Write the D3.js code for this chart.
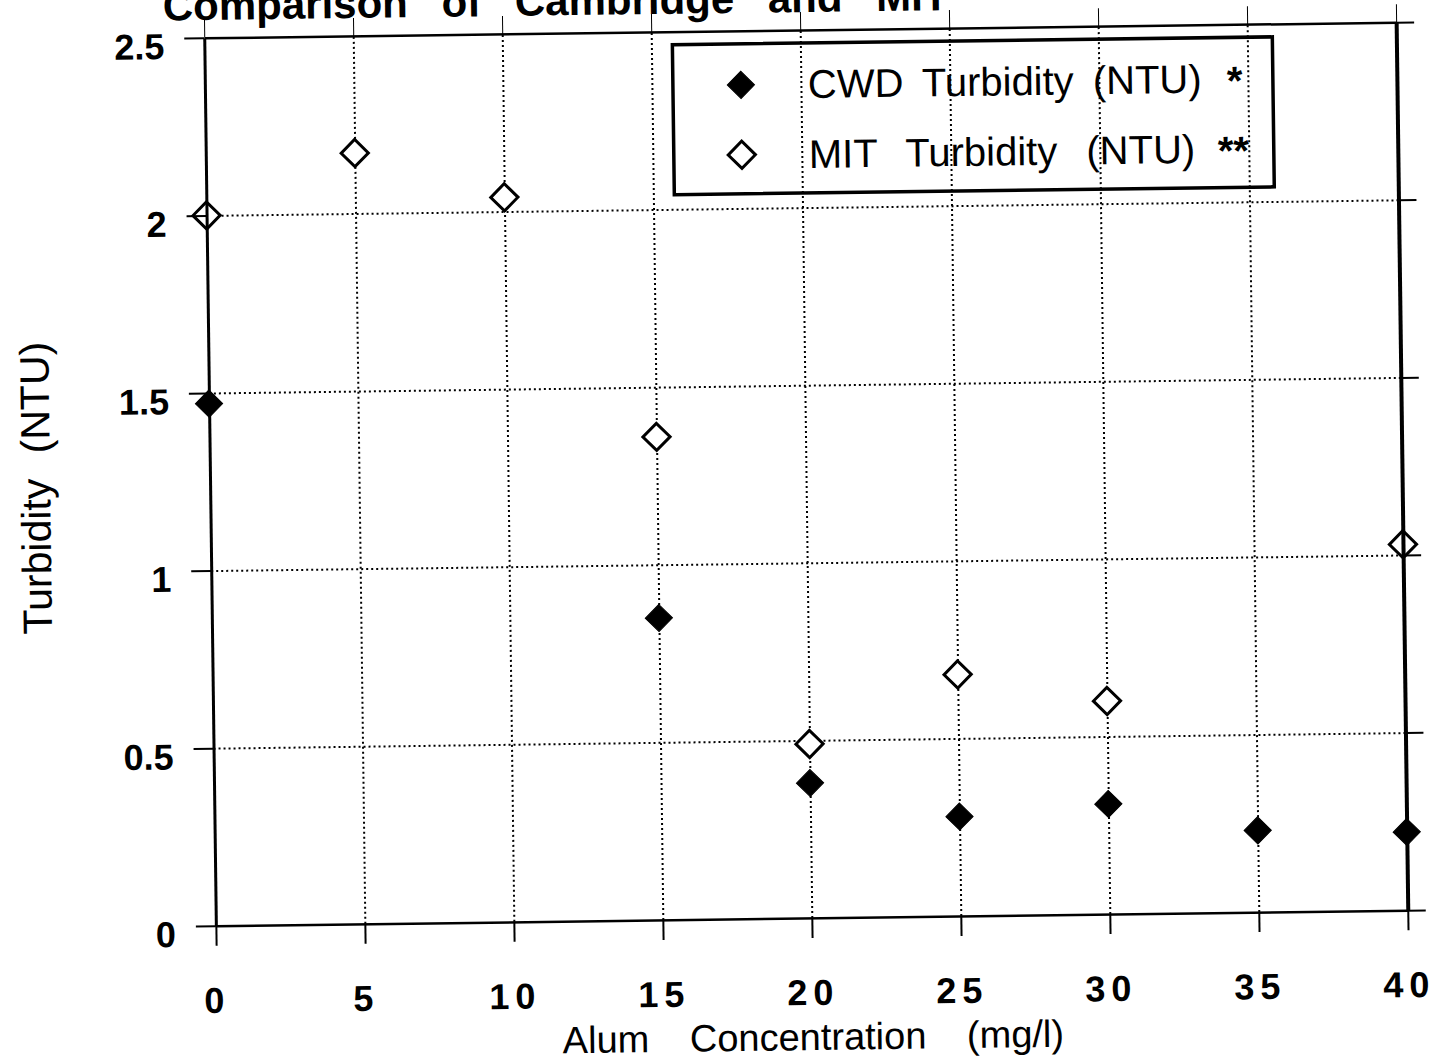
<!DOCTYPE html>
<html>
<head>
<meta charset="utf-8">
<script src="https://cdn.jsdelivr.net/npm/d3@7"></script>
<style>
  html, body { margin: 0; padding: 0; background: #fff; }
  svg { display: block; font-family: "Liberation Sans", Arial, Helvetica, sans-serif; }
</style>
</head>
<body>
<svg id="chart" width="1436" height="1064"></svg>
<script>
// values
const concentrations = [0, 5, 10, 15, 20, 25, 30, 35, 40];
const cwdTurbidity = [1.47, null, null, 0.85, 0.38, 0.28, 0.31, 0.23, 0.22];
const mitTurbidity = [2.00, 2.17, 2.04, 1.36, 0.49, 0.68, 0.60, null, 1.03];
const xTicks = [0, 5, 10, 15, 20, 25, 30, 35, 40];
const yTicks = [0, 0.5, 1, 1.5, 2, 2.5];
const yTickLabels = ["0", "0.5", "1", "1.5", "2", "2.5"];
const seriesNames = ["CWD Turbidity (NTU)", "MIT Turbidity (NTU)"];
const seriesMarks = ["*", "**"];

const svg = d3.select("#chart");
const margin = {left: 210, right: 34, top: 30, bottom: 146};
const width = 1436 - margin.left - margin.right,
    height = 1064 - margin.top - margin.bottom;

// the scan is tilted a little, so the whole drawing is too
const root = svg.append("g").attr("transform", "rotate(-0.75, 806, 474)");
const g = root.append("g").attr("transform", `translate(${margin.left},${margin.top})`);

const x = d3.scaleLinear().domain([0, 40]).range([0, width]);
const y = d3.scaleLinear().domain([0, 2.5]).range([height, 0]);

// dotted grid
g.append("g")
    .attr("class", "grid")
    .attr("transform", `translate(0,${height})`)
    .call(d3.axisBottom(x).tickValues(xTicks.slice(1, -1)).tickSize(-height).tickFormat(""))
    .call(s => s.select(".domain").remove());
g.append("g")
    .attr("class", "grid")
    .call(d3.axisLeft(y).tickValues(yTicks.slice(1, -1)).tickSize(-width).tickFormat(""))
    .call(s => s.select(".domain").remove());
g.selectAll(".grid line")
    .attr("stroke", "#000")
    .attr("stroke-width", 2)
    .attr("stroke-dasharray", "2 3");

// points
const symbol = d3.symbol().type(d3.symbolSquare).size(370);
function drawSeries(values, filled) {
    const pts = concentrations.map((c, i) => ({c: c, v: values[i]})).filter(d => d.v != null);
    g.append("g").selectAll("path")
        .data(pts)
        .enter().append("path")
        .attr("d", symbol)
        .attr("transform", d => `translate(${x(d.c)},${y(d.v)}) rotate(45)`)
        .attr("fill", filled ? "#000" : "#fff")
        .attr("stroke", "#000")
        .attr("stroke-width", filled ? 1 : 3);
}
drawSeries(mitTurbidity, false);
drawSeries(cwdTurbidity, true);

// frame axes, ticks pointing outwards on every side
const bottom = g.append("g")
    .attr("transform", `translate(0,${height})`)
    .call(d3.axisBottom(x).tickValues(xTicks).tickSize(20).tickSizeOuter(0));
bottom.selectAll("text")
    .attr("y", 87).attr("dy", null)
    .style("font-size", "36px").style("font-weight", "bold")
    .style("letter-spacing", "6px");

g.append("g")
    .call(d3.axisTop(x).tickValues(xTicks).tickSize(18).tickSizeOuter(0).tickFormat(""));

const left = g.append("g")
    .call(d3.axisLeft(y).tickValues(yTicks).tickSize(20).tickSizeOuter(0)
        .tickPadding(20).tickFormat((d, i) => yTickLabels[i]));
left.selectAll("text")
    .attr("dy", "0.56em")
    .style("font-size", "36px").style("font-weight", "bold");

const right = g.append("g")
    .attr("transform", `translate(${width},0)`)
    .call(d3.axisRight(y).tickValues(yTicks).tickSize(18).tickSizeOuter(0).tickFormat(""));

g.selectAll(".domain").attr("stroke", "#000").attr("stroke-width", 2.5);
left.select(".domain").attr("stroke-width", 3);
right.select(".domain").attr("stroke-width", 4);
g.selectAll(".tick line:not(.grid .tick line)").attr("stroke", "#000");
bottom.selectAll(".tick line").attr("stroke-width", 2);
left.selectAll(".tick line").attr("stroke-width", 2);
right.selectAll(".tick line").attr("stroke-width", 2);
g.selectAll("g:not(.grid)").attr("font-family", null);
svg.selectAll("text").attr("fill", "#000");

// legend
const legend = root.append("g").attr("transform", "translate(678,43)");
legend.append("rect")
    .attr("width", 600).attr("height", 150)
    .attr("fill", "none").attr("stroke", "#000").attr("stroke-width", 3.5);
seriesNames.forEach((name, i) => {
    const row = legend.append("g").attr("transform", `translate(0,${41 + i * 70})`);
    row.append("path")
        .attr("d", symbol)
        .attr("transform", "translate(68,0) rotate(45)")
        .attr("fill", i === 0 ? "#000" : "#fff")
        .attr("stroke", "#000")
        .attr("stroke-width", i === 0 ? 1 : 3);
    row.append("text")
        .attr("x", 135).attr("y", 14)
        .style("font-size", "40px").style("word-spacing", i === 0 ? "8px" : "18px")
        .text(name);
    row.append("text")
        .attr("x", i === 0 ? 554 : 544).attr("y", 16)
        .style("font-size", "40px").style("font-weight", "bold")
        .text(seriesMarks[i]);
});

// titles (the scan cuts the chart title off at the top)
root.append("text")
    .attr("x", 169).attr("y", 12)
    .style("font-size", "42px").style("font-weight", "bold").style("word-spacing", "22px")
    .text("Comparison of Cambridge and MIT");

root.append("text")
    .attr("x", margin.left + width / 2).attr("y", 1050)
    .attr("text-anchor", "middle")
    .style("font-size", "38px").style("word-spacing", "30px")
    .text("Alum Concentration (mg/l)");

root.append("text")
    .attr("transform", "translate(50,478) rotate(-90)")
    .attr("text-anchor", "middle")
    .style("font-size", "41px").style("word-spacing", "14px")
    .text("Turbidity (NTU)");
</script>
</body>
</html>
